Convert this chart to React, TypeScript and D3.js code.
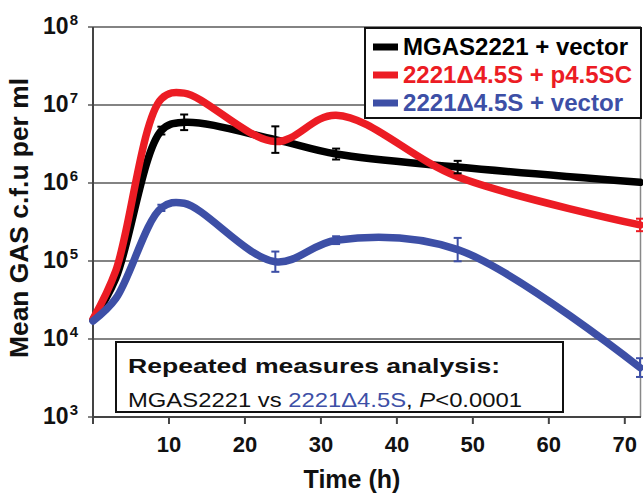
// Courbes de croissance GAS (échelle log) — lignes lissées + barres d'erreur
import * as d3 from 'd3';

// ── Données ────────────────────────────
const TIMES = [0, 3, 9, 12, 24, 32, 48, 72];
const BLACK = [1.75e4, 6.0e4, 4.7e6, 6.0e6, 3.6e6, 2.35e6, 1.6e6, 1.02e6];
const RED = [1.8e4, 7.5e4, 1.2e7, 1.42e7, 3.4e6, 7.4e6, 1.2e6, 2.9e5];
const BLUE = [1.7e4, 3.3e4, 4.8e5, 5.5e5, 9.8e4, 1.85e5, 1.4e5, 4.3e3];
// demi-largeur des barres d'erreur en log10
const BLACK_ERR = [0, 0, 0.05, 0.1, 0.17, 0.07, 0.08, 0];
const RED_ERR = [0, 0, 0, 0, 0, 0, 0, 0.08];
const BLUE_ERR = [0, 0, 0.04, 0, 0.13, 0.05, 0.15, 0.12];

const Y_TICKS = [1e3, 1e4, 1e5, 1e6, 1e7, 1e8];
const X_TICKS = [10, 20, 30, 40, 50, 60, 70];

const C_BLACK = '#000000';
const C_RED = '#ec1c24';
const C_BLUE = '#3d4fa6';

const SERIES = [
  { name: 'MGAS2221 + vector', values: BLACK, err: BLACK_ERR, color: C_BLACK },
  { name: '2221Δ4.5S + p4.5SC', values: RED, err: RED_ERR, color: C_RED },
  { name: '2221Δ4.5S + vector', values: BLUE, err: BLUE_ERR, color: C_BLUE },
];

const W = 643;
const H = 493;
const M = { left: 93, right: 2, top: 27, bottom: 76 };
const FONT = '"Liberation Sans", Arial, sans-serif';

export default function App() {
  const x = d3.scaleLinear().domain([0, 72]).range([M.left, W - 3]);
  const y = d3.scaleLog().domain([1e3, 1e8]).range([H - M.bottom, M.top]);

  const line = d3
    .line<number>()
    .x((_, i) => x(TIMES[i]))
    .y((v) => y(v))
    .curve(d3.curveCatmullRom.alpha(0.5));

  const plotRight = W - 2;
  const legendRows = SERIES.map((s, i) => ({ ...s, ry: 47 + i * 28 }));
  const legendWidths = [225, 229, 220];

  return (
    <svg width={W} height={H} style={{ position: 'absolute', left: 0, top: 0, background: '#fff' }} fontFamily={FONT}>
      {/* grille horizontale */}
      {Y_TICKS.map((t) => (
        <line key={t} x1={M.left - 5} x2={plotRight} y1={y(t)} y2={y(t)} stroke="#5a5a5a" strokeWidth={1.5} />
      ))}
      {/* axes / cadre */}
      <line x1={M.left} x2={M.left} y1={y(1e8)} y2={y(1e3) + 7} stroke="#444" strokeWidth={2} />
      <line x1={plotRight - 0.5} x2={plotRight - 0.5} y1={y(1e8)} y2={y(1e3)} stroke="#888" strokeWidth={1.5} />
      <line x1={M.left} x2={plotRight} y1={y(1e3)} y2={y(1e3)} stroke="#444" strokeWidth={2} />
      {X_TICKS.map((t) => (
        <line key={t} x1={x(t)} x2={x(t)} y1={y(1e3)} y2={y(1e3) + 7} stroke="#444" strokeWidth={2} />
      ))}

      {/* libellés des graduations Y */}
      {Y_TICKS.map((t) => (
        <text key={t} x={78} y={y(t) + 7} textAnchor="end" fontSize={23} fontWeight={700} fill="#111">
          10
          <tspan fontSize={15} dx={1} dy={-9}>
            {Math.round(Math.log10(t))}
          </tspan>
        </text>
      ))}
      {/* libellés des graduations X */}
      {X_TICKS.map((t) => (
        <text key={t} x={x(t)} y={452} textAnchor="middle" fontSize={22} fontWeight={700} fill="#111">
          {t}
        </text>
      ))}

      {/* titres des axes */}
      <text x={352} y={488} textAnchor="middle" fontSize={25} fontWeight={700} fill="#111">
        Time (h)
      </text>
      <text
        transform="translate(28,218) rotate(-90)"
        textAnchor="middle"
        fontSize={25}
        fontWeight={700}
        fill="#111"
        textLength={280}
        lengthAdjust="spacingAndGlyphs"
      >
        Mean GAS c.f.u per ml
      </text>

      {/* courbes */}
      {SERIES.map((s) => (
        <path
          key={s.name}
          d={line(s.values) ?? ''}
          fill="none"
          stroke={s.color}
          strokeWidth={7.5}
          strokeLinecap="round"
          strokeLinejoin="round"
        />
      ))}
      {/* barres d'erreur */}
      {SERIES.map((s) =>
        s.values.map((v, i) => {
          const e = s.err[i];
          if (!e) return null;
          const cx = x(TIMES[i]);
          const hi = y(v * Math.pow(10, e));
          const lo = y(v / Math.pow(10, e));
          return (
            <g key={s.name + i} stroke={s.color} strokeWidth={2}>
              <line x1={cx} x2={cx} y1={hi} y2={lo} />
              <line x1={cx - 4} x2={cx + 4} y1={hi} y2={hi} />
              <line x1={cx - 4} x2={cx + 4} y1={lo} y2={lo} />
            </g>
          );
        })
      )}

      {/* légende */}
      <rect x={365} y={28} width={276} height={90} fill="#fff" stroke="#111" strokeWidth={2} />
      {legendRows.map((r, i) => (
        <g key={r.name}>
          <line x1={373} x2={398} y1={r.ry} y2={r.ry} stroke={r.color} strokeWidth={7} />
          <text
            x={403}
            y={r.ry + 8}
            fontSize={23}
            fontWeight={700}
            fill={r.color}
            textLength={legendWidths[i]}
            lengthAdjust="spacingAndGlyphs"
          >
            {r.name}
          </text>
        </g>
      ))}

      {/* encadré statistique */}
      <rect x={116} y={342} width={447} height={70} fill="#fff" stroke="#111" strokeWidth={2} />
      <text x={128} y={373} fontSize={21} fontWeight={700} fill="#111" textLength={372} lengthAdjust="spacingAndGlyphs">
        Repeated measures analysis:
      </text>
      <text x={128} y={407} fontSize={21} fill="#111" textLength={394} lengthAdjust="spacingAndGlyphs">
        MGAS2221 vs <tspan fill={C_BLUE}>2221Δ4.5S</tspan>, <tspan fontStyle="italic">P</tspan>&lt;0.0001
      </text>
    </svg>
  );
}
